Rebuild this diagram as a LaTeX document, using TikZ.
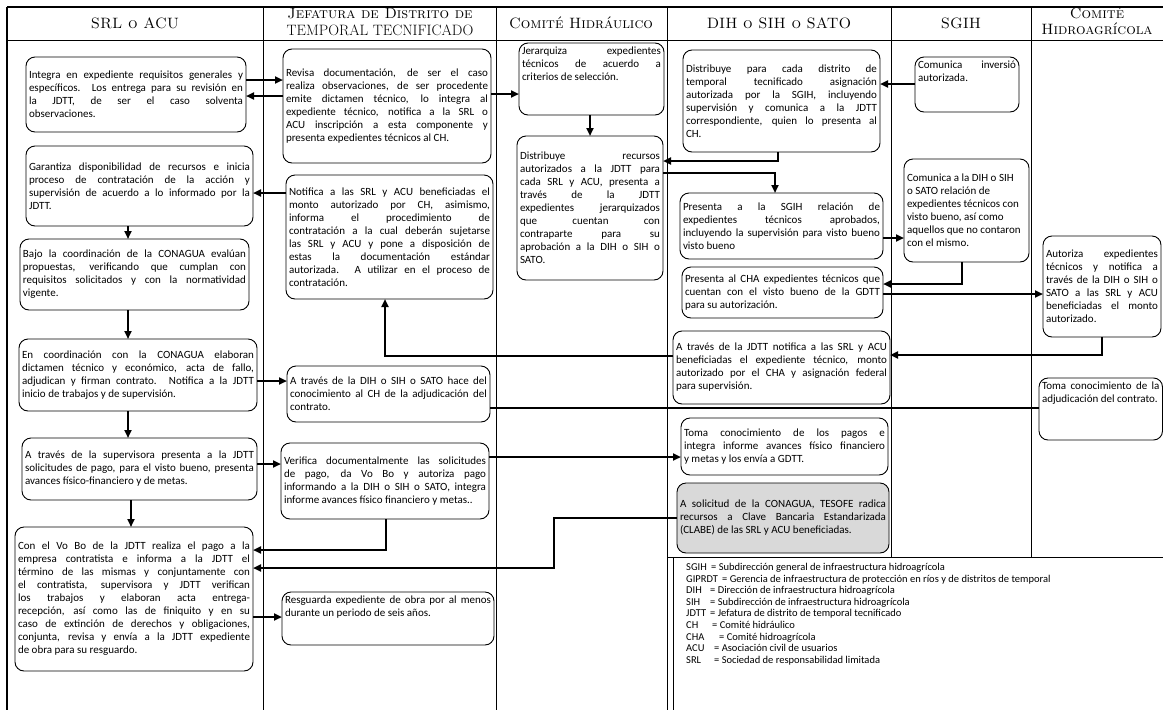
\documentclass[tikz,border=0pt]{standalone}
\usepackage{fontspec}
\newfontfamily\bodyfont{Carlito}
\usetikzlibrary{arrows.meta}
\tikzset{
  box/.style={draw, line width=0.9pt, rounded corners=9pt, inner xsep=3pt, inner ysep=4pt, outer sep=0pt, anchor=north west, font=\bodyfont\fontsize{11}{13}\selectfont},
  graybox/.style={fill=black!15},
  arr/.style={line width=2.4pt, -{Triangle[length=8pt,width=7pt]}},
  conn/.style={line width=2.4pt},
  grid/.style={line width=0.8pt},
  hdr/.style={font=\fontsize{15}{16.5}\selectfont, align=center, inner sep=0pt},
  legendtext/.style={anchor=north west, inner sep=0pt, align=left, font=\bodyfont\fontsize{10.5}{11.6}\selectfont},
}
\newcommand{\bx}[8][]{%
  \node[box,#1] (#2) at (#3,#4) {\parbox[t][\dimexpr #6pt-#4pt-8pt\relax][#7]{\dimexpr #5pt-#3pt-6pt\relax}{\tolerance=10000\hbadness=10000 #8}};}
\newcommand{\ab}[2]{\makebox[#1pt][l]{#2}}
\begin{document}
\begin{tikzpicture}[x=1pt,y=-1pt]
\useasboundingbox (0,0) rectangle (1163,710);
% table grid
\draw[grid, line width=1.1pt] (7,7) -- (1163,7);
\draw[grid] (7,40) -- (1163,40);
\draw[grid, line width=1.1pt] (7,7) -- (7,710);
\draw[grid] (263,7) -- (263,710);
\draw[grid] (496,7) -- (496,710);
\draw[grid] (667,7) -- (667,710);
\draw[grid, line width=0.5pt] (673,557) -- (673,710);
\draw[grid] (891,7) -- (891,557);
\draw[grid] (1031,7) -- (1031,557);
\draw[grid] (667,557) -- (1163,557);
% headers
\node[hdr] (h1) at (135,23) {\textsc{SRL o ACU}};
\node[hdr] (h2) at (380,22) {\textsc{Jefatura de Distrito de}\\TEMPORAL TECNIFICADO};
\node[hdr] (h3) at (581,23) {\textsc{Comité Hidráulico}};
\node[hdr] (h4) at (779,23) {\textsc{DIH o SIH o SATO}};
\node[hdr] (h5) at (961,23) {\textsc{SGIH}};
\node[hdr] (h6) at (1097,21) {\textsc{Comité}\\\textsc{Hidroagrícola}};
% SRL o ACU
\bx{B1}{26}{57}{246}{132}{c}{Integra en expediente requisitos generales y\linebreak específicos. Los entrega para su revisión en\linebreak la JDTT, de ser el caso solventa\linebreak observaciones.}
\bx{B2}{26}{146}{253}{226}{c}{Garantiza disponibilidad de recursos e inicia\linebreak proceso de contratación de la acción y\linebreak supervisión de acuerdo a lo informado por la\linebreak JDTT.}
\bx{B3}{20}{239}{249}{310}{c}{Bajo la coordinación de la CONAGUA evalúan\linebreak propuestas, verificando que cumplan con\linebreak requisitos solicitados y con la normatividad\linebreak vigente.}
\bx{B4}{19}{339}{257}{411}{c}{En coordinación con la CONAGUA elaboran\linebreak dictamen técnico y económico, acta de fallo,\linebreak adjudican y firman contrato. Notifica a la JDTT\linebreak inicio de trabajos y de supervisión.}
\bx{B5}{22}{438}{257}{500}{c}{A través de la supervisora presenta a la JDTT\linebreak solicitudes de pago, para el visto bueno, presenta\linebreak avances físico-financiero y de metas.}
\bx{B6}{15}{527}{253}{671}{c}{Con el Vo Bo de la JDTT realiza el pago a la\linebreak empresa contratista e informa a la JDTT el\linebreak término de las mismas y conjuntamente con\linebreak el contratista, supervisora y JDTT verifican\linebreak los trabajos y elaboran acta entrega-\linebreak recepción, así como las de finiquito y en su\linebreak caso de extinción de derechos y obligaciones,\linebreak conjunta, revisa y envía a la JDTT expediente\linebreak de obra para su resguardo.}
% JDTT
\bx{J1}{283}{49}{491}{163}{c}{Revisa documentación, de ser el caso\linebreak realiza observaciones, de ser procedente\linebreak emite dictamen técnico, lo integra al\linebreak expediente técnico, notifica a la SRL o\linebreak ACU inscripción a esta componente y\linebreak presenta expedientes técnicos al CH.}
\bx{J2}{286}{175}{493}{299}{c}{Notifica a las SRL y ACU beneficiadas el\linebreak monto autorizado por CH, asimismo,\linebreak informa el procedimiento de\linebreak contratación a la cual deberán sujetarse\linebreak las SRL y ACU y pone a disposición de\linebreak estas la documentación estándar\linebreak autorizada. A utilizar en el proceso de\linebreak contratación.}
\bx{J3}{287}{366}{490}{422}{c}{A través de la DIH o SIH o SATO hace del\linebreak conocimiento al CH de la adjudicación del\linebreak contrato.}
\bx{J4}{281}{443}{489}{519}{c}{Verifica documentalmente las solicitudes\linebreak de pago, da Vo Bo y autoriza pago\linebreak informando a la DIH o SIH o SATO, integra\linebreak informe avances físico financiero y metas..}
\bx{J5}{282}{592}{494}{645}{t}{Resguarda expediente de obra por al menos\linebreak durante un periodo de seis años.}
% Comite Hidraulico
\bx{C1}{519}{43}{664}{115}{t}{Jerarquiza expedientes\linebreak técnicos de acuerdo a\linebreak criterios de selección.}
\bx{C2}{517}{136}{663}{280}{c}{Distribuye recursos\linebreak autorizados a la JDTT para\linebreak cada SRL y ACU, presenta a\linebreak través de la JDTT\linebreak expedientes jerarquizados\linebreak que cuentan con\linebreak contraparte para su\linebreak aprobación a la DIH o SIH o\linebreak SATO.}
% DIH o SIH o SATO
\bx{D1}{683}{50}{880}{152}{c}{Distribuye para cada distrito de\linebreak temporal tecnificado asignación\linebreak autorizada por la SGIH, incluyendo\linebreak supervisión y comunica a la JDTT\linebreak correspondiente, quien lo presenta al\linebreak CH.}
\bx{D2}{680}{193}{883}{259}{c}{Presenta a la SGIH relación de\linebreak expedientes técnicos aprobados,\linebreak incluyendo la supervisión para visto bueno\linebreak visto bueno}
\bx{D3}{682}{267}{883}{318}{c}{Presenta al CHA expedientes técnicos que\linebreak cuentan con el visto bueno de la GDTT\linebreak para su autorización.}
\bx{D4}{673}{331}{890}{404}{c}{A través de la JDTT notifica a las SRL y ACU\linebreak beneficiadas el expediente técnico, monto\linebreak autorizado por el CHA y asignación federal\linebreak para supervisión.}
\bx{D5}{681}{418}{888}{475}{c}{Toma conocimiento de los pagos e\linebreak integra informe avances físico financiero\linebreak y metas y los envía a GDTT.}
\bx[graybox]{D6}{677}{483}{889}{553}{c}{A solicitud de la CONAGUA, TESOFE radica\linebreak recursos a Clave Bancaria Estandarizada\linebreak (CLABE) de las SRL y ACU beneficiadas.}
% SGIH
\bx{S1}{915}{57}{1019}{112}{t}{Comunica inversió\linebreak autorizada.}
\bx{S2}{904}{159}{1029}{262}{c}{Comunica a la DIH o SIH\\o SATO relación de\\expedientes técnicos con\\visto bueno, así como\\aquellos que no contaron\\con el mismo.}
% Comite Hidroagricola
\bx{H1}{1043}{236}{1161}{337}{c}{Autoriza expedientes\linebreak técnicos y notifica a\linebreak través de la DIH o SIH o\linebreak SATO a las SRL y ACU\linebreak beneficiadas el monto\linebreak autorizado.}
\bx{H2}{1039}{378}{1162.5}{440}{t}{Toma conocimiento de la\linebreak adjudicación del contrato.}
% connectors
\draw[arr] (B1.east |- 0,80) -- (J1.west |- 0,80);
\draw[arr] (J1.west |- 0,96) -- (B1.east |- 0,96);
\draw[arr] (J1.east |- 0,94) -- (C1.west |- 0,94);
\draw[arr] (C1.south -| 590,0) -- (C2.north -| 590,0);
\draw[arr] (S1.west |- 0,84) -- (D1.east |- 0,84);
\draw[arr] (D1.south -| 778,0) |- (C2.east |- 0,161);
\draw[arr] (C2.east |- 0,173) -| (D2.north -| 775,0);
\draw[arr] (D2.east |- 0,238) -- (S2.west |- 0,238);
\draw[arr] (S2.south -| 962,0) |- (D3.east |- 0,284);
\draw[arr] (D3.east |- 0,294) -- (H1.west |- 0,294);
\draw[arr] (H1.south -| 1102,0) |- (D4.east |- 0,355);
\draw[arr] (D4.west |- 0,356) -| (J2.south -| 385,0);
\draw[arr] (J2.west |- 0,193) -- (B2.east |- 0,193);
\draw[arr] (B2.south -| 128,0) -- (B3.north -| 128,0);
\draw[arr] (B3.south -| 128,0) -- (B4.north -| 128,0);
\draw[arr] (B4.south -| 128,0) -- (B5.north -| 128,0);
\draw[arr] (B5.south -| 131,0) -- (B6.north -| 131,0);
\draw[arr] (B4.east |- 0,381) -- (J3.west |- 0,381);
\draw[conn] (J3.east |- 0,408) -- (H2.west |- 0,408);
\draw[arr] (B5.east |- 0,464) -- (J4.west |- 0,464);
\draw[arr] (J4.east |- 0,457) -- (D5.west |- 0,457);
\draw[arr] (J4.south -| 386,0) |- (B6.east |- 0,550);
\coordinate (k1) at (554,518);
\coordinate (k2) at (554,568);
\draw[arr] (D6.west |- 0,518) -- (k1) -- (k2) -- (B6.east |- 0,568);
\draw[arr] (B6.east |- 0,617) -- (J5.west |- 0,617);
% legend
\node[legendtext] (legend) at (686,563) {%
\ab{25}{SGIH}= Subdirección general de infraestructura hidroagrícola\\
\ab{36}{GIPRDT}= Gerencia de infraestructura de protección en ríos y de distritos de temporal\\
\ab{24}{DIH}= Dirección de infraestructura hidroagrícola\\
\ab{24}{SIH}= Subdirección de infraestructura hidroagrícola\\
\ab{24}{JDTT}= Jefatura de distrito de temporal tecnificado\\
\ab{26}{CH}= Comité hidráulico\\
\ab{33}{CHA}= Comité hidroagrícola\\
\ab{28}{ACU}= Asociación civil de usuarios\\
\ab{28}{SRL}= Sociedad de responsabilidad limitada};
\end{tikzpicture}
\end{document}
